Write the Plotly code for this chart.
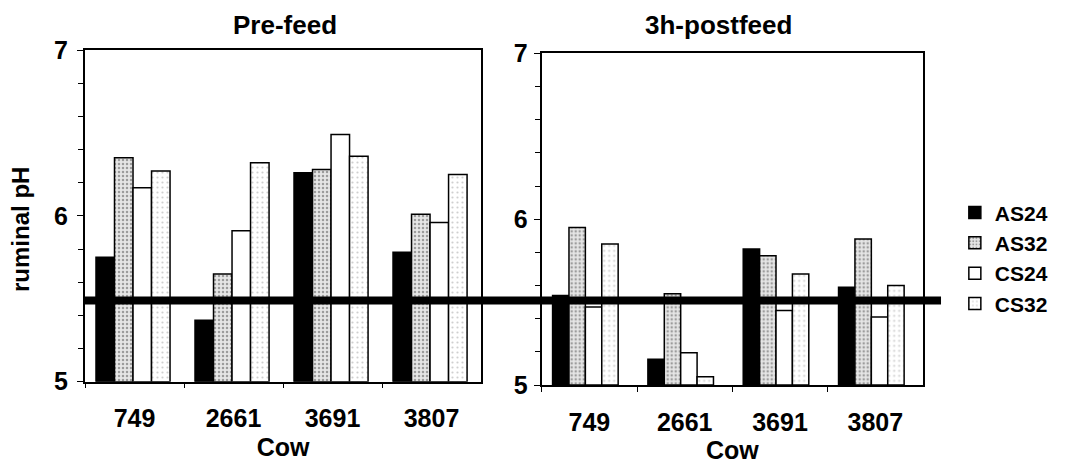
import plotly.graph_objects as go

# ---------------- data ----------------
cows = ["749", "2661", "3691", "3807"]
series = ["AS24", "AS32", "CS24", "CS32"]

pre_AS24 = [5.75, 5.37, 6.26, 5.78]
pre_AS32 = [6.35, 5.65, 6.28, 6.01]
pre_CS24 = [6.17, 5.91, 6.49, 5.96]
pre_CS32 = [6.27, 6.32, 6.36, 6.25]

post_AS24 = [5.54, 5.155, 5.82, 5.59]
post_AS32 = [5.95, 5.55, 5.78, 5.88]
post_CS24 = [5.47, 5.195, 5.45, 5.41]
post_CS32 = [5.85, 5.05, 5.67, 5.60]

threshold_ph = 5.49
base_ph = 5

panel_titles = ["Pre-feed", "3h-postfeed"]
x_title = "Cow"
y_title = "ruminal pH"

# ---------------- styles ----------------
FONT = "Liberation Sans, Arial, Helvetica, sans-serif"
styles = {
    "AS24": dict(color="black", line=dict(color="black", width=1.5)),
    "AS32": dict(color="#e6e6e6", line=dict(color="black", width=1.5),
                 pattern=dict(shape=".", fgcolor="#9c9c9c", bgcolor="#e6e6e6",
                              size=4, solidity=0.3, fillmode="replace")),
    "CS24": dict(color="white", line=dict(color="black", width=1.5)),
    "CS32": dict(color="white", line=dict(color="black", width=1.5),
                 pattern=dict(shape=".", fgcolor="#cfcfcf", bgcolor="white",
                              size=5, solidity=0.15, fillmode="replace")),
}

panels = [
    dict(vals=[pre_AS24, pre_AS32, pre_CS24, pre_CS32], xa="x", ya="y", w=0.187, shift=-0.015),
    dict(vals=[post_AS24, post_AS32, post_CS24, post_CS32], xa="x2", ya="y2", w=0.172, shift=-0.042),
]

fig = go.Figure()
for p_i, p in enumerate(panels):
    w = p["w"]
    for i, s in enumerate(series):
        fig.add_trace(go.Bar(
            x=cows, y=[v - base_ph for v in p["vals"][i]], base=base_ph, name=s,
            xaxis=p["xa"], yaxis=p["ya"],
            width=w, offset=-2 * w + i * w + p["shift"],
            marker=styles[s],
            legendgroup=s, showlegend=(p_i == 0),
        ))

common_x = dict(type="category", range=[-0.5, 3.5], showline=True, linecolor="black",
                linewidth=1.5, mirror=True, ticks="outside", tickson="boundaries",
                ticklen=5, tickcolor="black", showgrid=False, automargin=False,
                tickfont=dict(size=25, weight="bold", family=FONT),
                ticklabelstandoff=14,
                title=dict(text=x_title, font=dict(size=25, weight="bold", family=FONT), standoff=7))
common_y = dict(range=[5, 7], tick0=5, dtick=1, ticks="outside", ticklen=6, tickcolor="black",
                showline=True, linecolor="black", linewidth=2, mirror=True, showgrid=False,
                zeroline=False, automargin=False,
                tickfont=dict(size=25, weight="bold", family=FONT),
                minor=dict(dtick=0.2, tick0=5, ticks="outside", ticklen=5, tickcolor="black",
                           showgrid=False))

# the page body adds an 8px offset, so the layout is shifted up/left by 8px
fig.update_layout(
    width=1074, height=463,
    margin=dict(l=77, r=159, t=42, b=86, autoexpand=False),
    plot_bgcolor="white", paper_bgcolor="white",
    barmode="overlay",
    font=dict(family=FONT, color="black", size=22),
    xaxis=dict(domain=[0, 0.4726], anchor="y", **common_x),
    xaxis2=dict(domain=[0.545, 1.0], anchor="y2", **common_x),
    yaxis=dict(domain=[0.00985, 1.0], anchor="x", ticklabelstandoff=4, **common_y),
    yaxis2=dict(domain=[0.0, 0.990], anchor="x2", ticklabelstandoff=1, **common_y),
    legend=dict(x=1.038, y=0.575, xanchor="left", yanchor="top",
                font=dict(size=21, weight="bold", family=FONT),
                bgcolor="rgba(0,0,0,0)", tracegroupgap=0),
    showlegend=True,
)

fig.add_shape(type="line", xref="paper", yref="y", x0=0, x1=1.0215,
              y0=threshold_ph, y1=threshold_ph, line=dict(color="black", width=8),
              layer="above")

fig.add_annotation(text=panel_titles[0], xref="paper", yref="paper", x=0.2387, y=1.0746,
                   showarrow=False, xanchor="center", yanchor="middle",
                   font=dict(size=26, weight="bold", family=FONT))
fig.add_annotation(text=panel_titles[1], xref="paper", yref="paper", x=0.7554, y=1.0746,
                   showarrow=False, xanchor="center", yanchor="middle",
                   font=dict(size=26, weight="bold", family=FONT))
fig.add_annotation(text=y_title, xref="paper", yref="paper", x=-0.0764, y=0.4657,
                   showarrow=False, xanchor="center", yanchor="middle", textangle=-90,
                   font=dict(size=24, weight="bold", family=FONT))

fig.write_html("out.html")
